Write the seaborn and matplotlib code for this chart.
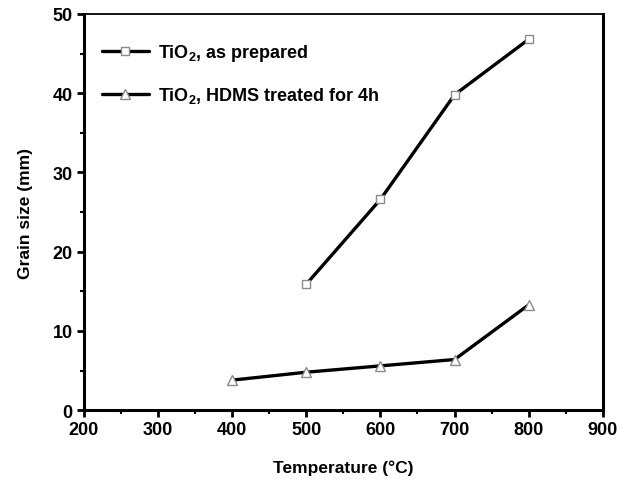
import matplotlib
matplotlib.use("Agg")
import matplotlib.pyplot as plt
import seaborn as sns
import pandas as pd
from matplotlib.ticker import MultipleLocator

temp_prepared = [500, 600, 700, 800]
size_prepared = [15.9, 26.6, 39.8, 46.8]
temp_hdms = [400, 500, 600, 700, 800]
size_hdms = [3.8, 4.8, 5.6, 6.4, 13.3]
label_prepared = "TiO$_2$, as prepared"
label_hdms = "TiO$_2$, HDMS treated for 4h"

sns.set_style("white")
plt.rcParams['font.family'] = ['Liberation Sans', 'DejaVu Sans']
plt.rcParams['font.weight'] = 'bold'
plt.rcParams['text.color'] = 'black'
plt.rcParams['axes.labelcolor'] = 'black'
plt.rcParams['xtick.color'] = 'black'
plt.rcParams['ytick.color'] = 'black'
plt.rcParams['mathtext.fontset'] = 'custom'
plt.rcParams['mathtext.rm'] = 'Liberation Sans:bold'
plt.rcParams['mathtext.default'] = 'rm'

fig = plt.figure(figsize=(6.26, 4.81), dpi=100)
ax = fig.add_axes([0.134, 0.145, 0.829, 0.824])

df1 = pd.DataFrame({"T": temp_prepared, "G": size_prepared})
df2 = pd.DataFrame({"T": temp_hdms, "G": size_hdms})
sns.lineplot(data=df1, x="T", y="G", ax=ax, color="black", lw=2.4,
             marker="s", markersize=6, markerfacecolor="white",
             markeredgecolor="#8a8a8a", markeredgewidth=1.0, label=label_prepared)
sns.lineplot(data=df2, x="T", y="G", ax=ax, color="black", lw=2.4,
             marker="^", markersize=7, markerfacecolor="white",
             markeredgecolor="#8a8a8a", markeredgewidth=1.0, label=label_hdms)

ax.set_xlim(200, 900)
ax.set_ylim(0, 50)
ax.xaxis.set_major_locator(MultipleLocator(100))
ax.xaxis.set_minor_locator(MultipleLocator(50))
ax.yaxis.set_major_locator(MultipleLocator(10))
ax.yaxis.set_minor_locator(MultipleLocator(5))
ax.tick_params(which='major', direction='out', length=5, width=2, labelsize=13,
               bottom=True, left=True, top=False, right=False, pad=3)
ax.tick_params(which='minor', direction='out', length=3, width=1.5,
               bottom=True, left=True, top=False, right=False)
for lbl in ax.get_xticklabels() + ax.get_yticklabels():
    lbl.set_fontweight('bold')

for s in ['left', 'bottom', 'right']:
    ax.spines[s].set_linewidth(2.2)
    ax.spines[s].set_color('black')
ax.spines['top'].set_linewidth(1.3)
ax.spines['top'].set_color('black')

ax.set_xlabel("Temperature (°C)", fontsize=12.5, fontweight='bold', labelpad=15)
ax.set_ylabel("Grain size (mm)", fontsize=12.5, fontweight='bold', labelpad=14)

leg = ax.legend(loc='upper left', frameon=False, fontsize=13, handlelength=2.6,
                labelspacing=1.25, borderaxespad=0.6, handletextpad=0.5,
                bbox_to_anchor=(0.0, 0.975))
for t in leg.get_texts():
    t.set_fontweight('bold')

fig.savefig("out.png", dpi=100, facecolor='white')
